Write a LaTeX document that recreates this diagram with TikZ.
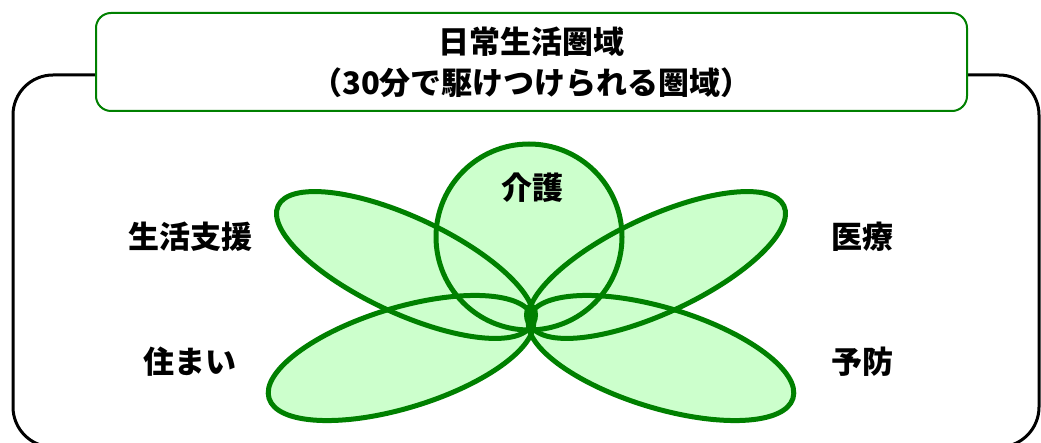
\documentclass[tikz,border=0pt]{standalone}
\usepackage{fontspec}
\setmainfont{Noto Sans CJK JP}
\definecolor{verde}{RGB}{0,128,0}
\definecolor{verdeclaro}{RGB}{204,255,204}
\tikzset{
  borde/.style={verde,line width=5pt}
}
\begin{document}
\begin{tikzpicture}[x=1pt,y=-1pt,font=\fontsize{31}{41}\selectfont\bfseries]
            \useasboundingbox (0,0) rectangle (1041,443);
            \clip (0,0) rectangle (1041,443);
            \draw[line width=3pt,rounded corners=40pt] (13,75) rectangle (1039,447); % marco
            \node[draw=verde,fill=white,line width=2pt,rounded corners=15pt,minimum width=871pt,minimum height=98pt,align=center] (titulo) at (531.5,62) {日常生活圏域\\（30分で駆けつけられる圏域）};
            % relleno de los petalos
            \foreach \cx/\cy/\ang/\a/\b in {405/265/-25/140/48,657/265/25/140/48,401/358/17/138/50,661/358/-17/138/50}
            \fill[verdeclaro,rotate around={\ang:(\cx,\cy)}] (\cx,\cy) ellipse [x radius=\a pt,y radius=\b pt];
            \fill[verdeclaro] (529,237) circle [radius=93pt];
            % bordes
            \foreach \cx/\cy/\ang/\a/\b in {405/265/-25/140/48,657/265/25/140/48,401/358/17/138/50,661/358/-17/138/50}
            \draw[borde,rotate around={\ang:(\cx,\cy)}] (\cx,\cy) ellipse [x radius=\a pt,y radius=\b pt];
            \draw[borde] (529,237) circle [radius=93pt];
            \fill[verde] (531,315) ellipse [x radius=7pt,y radius=12pt]; % centro
            \node (kaigo) at (532,188) {介護};
            \node (seikatsu) at (190,237) {生活支援};
            \node (iryo) at (862,237) {医療};
            \node (sumai) at (190,362) {住まい};
            \node (yobo) at (862,362) {予防};
\end{tikzpicture}
\end{document}
